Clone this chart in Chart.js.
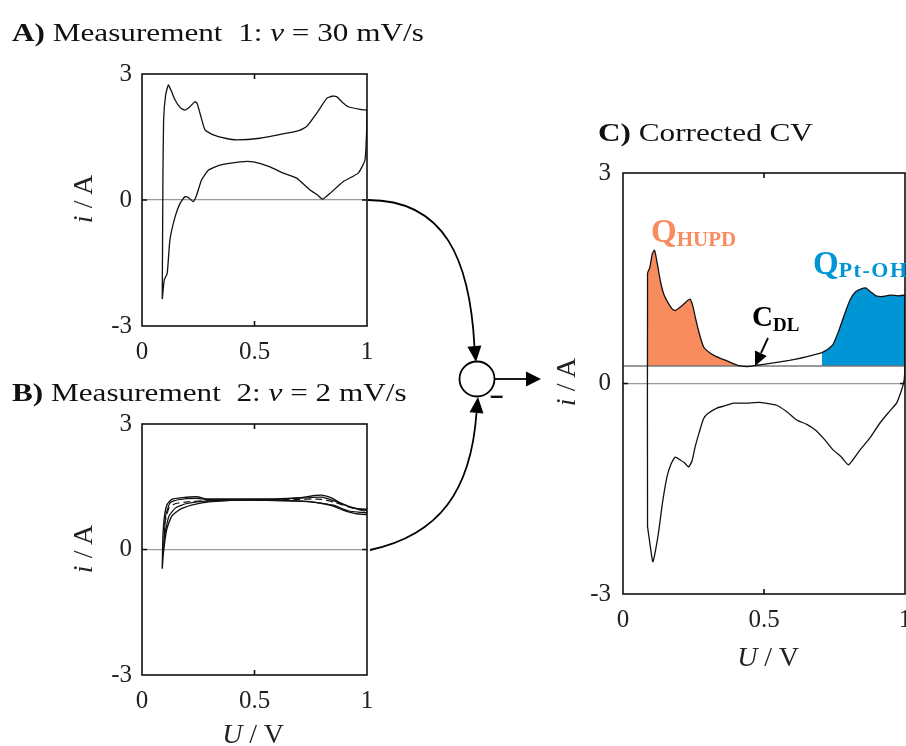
<!DOCTYPE html>
<html>
<head>
<meta charset="utf-8">
<script src="https://cdn.jsdelivr.net/npm/chart.js@4/dist/chart.umd.min.js"></script>
<style>
  html, body { margin: 0; padding: 0; background: #fff; }
  #wrap { position: relative; width: 906px; height: 746px; overflow: hidden; font-family: "Liberation Serif", "Times New Roman", serif; color: #111; }
  canvas { position: absolute; }
  .t { position: absolute; white-space: pre; line-height: 1; }
  .ttl { position: absolute; white-space: pre; line-height: 1; font-size: 26px; transform: scaleX(1.2); transform-origin: 0 0; }
  .rot { position: absolute; white-space: pre; line-height: 1; font-size: 28px; color: #222; transform: translate(-50%, -50%) rotate(-90deg); }
  .xt { position: absolute; white-space: pre; line-height: 1; font-size: 28px; color: #222; transform: translateX(-50%); }
</style>
</head>
<body>
<div id="wrap">
  <canvas id="chartA" width="400" height="320" style="left:0;top:60px"></canvas>
  <canvas id="chartB" width="400" height="336" style="left:0;top:410px"></canvas>
  <canvas id="chartC" width="346" height="500" style="left:560px;top:160px"></canvas>
  <canvas id="overlay" width="906" height="746" style="left:0;top:0"></canvas>

  <div class="ttl" style="left:12px;top:20px"><b>A)</b> Measurement  1: <i>v</i> = 30 mV/s</div>
  <div class="ttl" style="left:12px;top:380px"><b>B)</b> Measurement  2: <i>v</i> = 2 mV/s</div>
  <div class="ttl" style="left:598px;top:120px"><b>C)</b> Corrected CV</div>

  <div class="rot" style="left:83px;top:199px"><i>i</i> / A</div>
  <div class="rot" style="left:83px;top:549px"><i>i</i> / A</div>
  <div class="rot" style="left:566px;top:382px"><i>i</i> / A</div>
  <div class="xt" style="left:253px;top:720px"><i>U</i> / V</div>
  <div class="xt" style="left:768px;top:643px"><i>U</i> / V</div>

  <div class="t" style="left:651px;top:215px;font-size:33px;font-weight:bold;color:#f98c5f">Q<span style="font-size:21px;vertical-align:-4px">HUPD</span></div>
  <div class="t" style="left:813px;top:247px;font-size:33px;font-weight:bold;color:#0096d6">Q<span style="font-size:22px;vertical-align:-3px;letter-spacing:1.5px">Pt-OH</span></div>
  <div class="t" style="left:752px;top:302px;font-size:29px;font-weight:bold;color:#000">C<span style="font-size:19px;vertical-align:-5px">DL</span></div>
  <div class="t" style="left:490px;top:383px;font-size:24px;font-weight:bold;font-family:'Liberation Sans',sans-serif">–</div>
</div>

<script>
// axis ticks
const U_TICKS = [0, 0.5, 1];
const I_TICKS = [-3, 0, 3];

// A) 30 mV/s, anodic sweep then cathodic sweep back
const A_UP_U = [0.090, 0.093, 0.096, 0.105, 0.117, 0.130, 0.147, 0.170, 0.191, 0.213, 0.235, 0.245, 0.258, 0.280, 0.317, 0.370, 0.421, 0.524, 0.643, 0.700, 0.732, 0.776, 0.821, 0.845, 0.865, 0.890, 0.917, 0.969, 1.000];
const A_UP_I = [-2.36, 0.50, 1.90, 2.50, 2.74, 2.60, 2.38, 2.20, 2.14, 2.22, 2.34, 2.30, 2.06, 1.67, 1.55, 1.47, 1.43, 1.47, 1.59, 1.66, 1.75, 2.06, 2.42, 2.47, 2.46, 2.33, 2.22, 2.16, 2.14];
const A_DOWN_U = [1.000, 0.998, 0.991, 0.961, 0.895, 0.836, 0.803, 0.780, 0.747, 0.687, 0.628, 0.569, 0.495, 0.436, 0.347, 0.295, 0.265, 0.243, 0.228, 0.206, 0.191, 0.169, 0.147, 0.124, 0.112, 0.099, 0.090];
const A_DOWN_I = [2.14, 1.60, 0.95, 0.64, 0.44, 0.16, 0.02, 0.12, 0.24, 0.52, 0.64, 0.79, 0.91, 0.91, 0.83, 0.71, 0.48, 0.12, -0.04, 0.06, 0.08, -0.08, -0.40, -0.95, -1.75, -1.90, -2.36];

// B) 2 mV/s, several cycles
const B1_U = [0.090, 0.093, 0.100, 0.112, 0.132, 0.180, 0.243, 0.287, 0.400, 0.584, 0.700, 0.770, 0.800, 0.840, 0.880, 0.920, 0.954, 1.000, 1.000, 0.960, 0.939, 0.890, 0.850, 0.800, 0.732, 0.600, 0.436, 0.330, 0.273, 0.220, 0.169, 0.132, 0.110, 0.095, 0.090];
const B1_I = [-0.46, 0.30, 0.80, 1.08, 1.20, 1.24, 1.26, 1.21, 1.21, 1.21, 1.24, 1.29, 1.30, 1.24, 1.12, 1.03, 0.97, 0.96, 0.84, 0.85, 0.87, 0.95, 1.04, 1.10, 1.15, 1.17, 1.18, 1.15, 1.12, 1.06, 0.96, 0.80, 0.48, -0.08, -0.46];
const B2_U = [0.095, 0.105, 0.125, 0.160, 0.243, 0.300, 0.584, 0.750, 0.800, 0.860, 0.920, 1.000, 1.000, 0.920, 0.850, 0.750, 0.500, 0.300, 0.200, 0.150, 0.120, 0.100, 0.095];
const B2_I = [0.00, 0.80, 1.12, 1.19, 1.22, 1.19, 1.20, 1.24, 1.25, 1.15, 1.02, 0.93, 0.88, 0.92, 1.06, 1.14, 1.18, 1.16, 1.10, 1.00, 0.80, 0.30, 0.00];
const B3_U = [0.100, 0.120, 0.150, 0.200, 0.300, 0.500, 0.700, 0.800, 0.860, 0.930, 1.000];
const B3_I = [0.60, 1.00, 1.10, 1.14, 1.17, 1.19, 1.20, 1.20, 1.12, 1.00, 0.90];

// C) corrected CV = A - B
const C_UP_U = [0.087, 0.087, 0.095, 0.104, 0.112, 0.122, 0.133, 0.144, 0.160, 0.175, 0.185, 0.200, 0.215, 0.228, 0.238, 0.248, 0.256, 0.270, 0.286, 0.310, 0.333, 0.370, 0.400, 0.416, 0.440, 0.474, 0.510, 0.545, 0.590, 0.628, 0.670, 0.705, 0.730, 0.745, 0.765, 0.785, 0.805, 0.826, 0.845, 0.862, 0.880, 0.897, 0.920, 0.947, 0.975, 1.000];
const C_UP_I = [-2.04, 1.57, 1.65, 1.85, 1.90, 1.70, 1.45, 1.28, 1.15, 1.06, 1.04, 1.08, 1.13, 1.18, 1.20, 1.10, 0.95, 0.72, 0.52, 0.43, 0.38, 0.32, 0.27, 0.25, 0.24, 0.26, 0.28, 0.30, 0.33, 0.36, 0.40, 0.44, 0.50, 0.56, 0.75, 0.98, 1.19, 1.31, 1.35, 1.36, 1.30, 1.25, 1.24, 1.26, 1.25, 1.26];
const C_DOWN_U = [1.000, 1.000, 0.997, 0.988, 0.970, 0.940, 0.910, 0.875, 0.840, 0.800, 0.775, 0.746, 0.715, 0.681, 0.650, 0.616, 0.580, 0.545, 0.486, 0.440, 0.392, 0.360, 0.333, 0.300, 0.286, 0.270, 0.256, 0.245, 0.233, 0.218, 0.203, 0.185, 0.170, 0.156, 0.140, 0.125, 0.106, 0.096, 0.087];
const C_DOWN_I = [1.26, 0.30, 0.05, -0.09, -0.28, -0.42, -0.57, -0.78, -0.95, -1.16, -1.05, -0.95, -0.80, -0.66, -0.58, -0.52, -0.40, -0.31, -0.27, -0.28, -0.28, -0.32, -0.35, -0.43, -0.50, -0.70, -0.90, -1.10, -1.19, -1.13, -1.09, -1.05, -1.15, -1.33, -1.70, -2.15, -2.54, -2.30, -2.04];

// double layer baseline and integration windows
const CDL_BASE = 0.25;
const HUPD_RANGE = [0.087, 0.42];
const PTOH_RANGE = [0.705, 1.0];

const FONT = { family: "'Liberation Serif', 'Times New Roman', serif", size: 25 };
const ORANGE = '#f98c5f';
const BLUE = '#0096d6';

const pts = (us, is) => us.map((u, k) => ({ x: u, y: is[k] }));

function loop(upU, upI, downU, downI) {
  const p = pts(upU, upI).concat(pts(downU, downI));
  p.push(p[0]);
  return p;
}

function curve(data, extra) {
  return Object.assign({
    data: data, showLine: true, pointRadius: 0, borderColor: '#111',
    borderWidth: 1.3, tension: 0.15, fill: false
  }, extra || {});
}

// frame + small inward ticks
const boxPlugin = {
  id: 'box',
  afterDatasetsDraw(chart) {
    const { ctx, chartArea: a, scales: { x, y } } = chart;
    ctx.save();
    ctx.strokeStyle = '#111';
    ctx.lineWidth = 1.6;
    ctx.strokeRect(a.left, a.top, a.right - a.left, a.bottom - a.top);
    ctx.beginPath();
    const px = x.getPixelForValue(0.5);
    ctx.moveTo(px, a.top); ctx.lineTo(px, a.top + 5);
    ctx.moveTo(px, a.bottom); ctx.lineTo(px, a.bottom - 5);
    const py = y.getPixelForValue(0);
    ctx.moveTo(a.left, py); ctx.lineTo(a.left + 5, py);
    ctx.moveTo(a.right, py); ctx.lineTo(a.right - 5, py);
    ctx.stroke();
    ctx.restore();
  }
};

function noPad(s) {
  s.paddingTop = 0; s.paddingBottom = 0; s.paddingLeft = 0; s.paddingRight = 0;
}

function makeChart(id, datasets, pad, yWidth, xHeight, yPad) {
  return new Chart(document.getElementById(id), {
    type: 'scatter',
    data: { datasets: datasets },
    plugins: [boxPlugin],
    options: {
      responsive: false,
      animation: false,
      devicePixelRatio: 1,
      layout: { autoPadding: false, padding: { left: 0, top: pad.top, right: pad.right, bottom: 0 } },
      plugins: { legend: { display: false }, tooltip: { enabled: false } },
      scales: {
        x: {
          type: 'linear', min: 0, max: 1,
          afterBuildTicks: s => { s.ticks = U_TICKS.map(v => ({ value: v })); },
          afterFit: s => { s.height = xHeight; noPad(s); },
          grid: { display: false, drawTicks: false },
          border: { display: false },
          ticks: { font: FONT, color: '#222', padding: 11, maxRotation: 0, autoSkip: false, callback: v => String(v) }
        },
        y: {
          type: 'linear', min: -3, max: 3,
          afterBuildTicks: s => { s.ticks = I_TICKS.map(v => ({ value: v })); },
          afterFit: s => { s.width = yWidth; noPad(s); },
          grid: {
            drawTicks: false, lineWidth: 1.2,
            color: c => (c.tick && c.tick.value === 0) ? '#999' : 'rgba(0,0,0,0)'
          },
          border: { display: false },
          ticks: { font: FONT, color: '#222', padding: yPad, callback: v => String(v) }
        }
      }
    }
  });
}

// A
makeChart('chartA', [curve(loop(A_UP_U, A_UP_I, A_DOWN_U, A_DOWN_I))], { top: 14, right: 33 }, 142, 54, 10);

// B
makeChart('chartB', [
  curve(pts(B1_U, B1_I), { borderWidth: 1.4 }),
  curve(pts(B2_U, B2_I), { borderWidth: 1.2 }),
  curve(pts(B3_U, B3_I), { borderWidth: 1.2, borderDash: [7, 4] })
], { top: 14, right: 33 }, 142, 71, 10);

// C
const cUp = pts(C_UP_U, C_UP_I);
const hupd = cUp.slice(1).filter(p => p.x >= HUPD_RANGE[0] && p.x <= HUPD_RANGE[1]);
const ptoh = cUp.filter(p => p.x >= PTOH_RANGE[0] && p.x <= PTOH_RANGE[1]);
makeChart('chartC', [
  curve(loop(C_UP_U, C_UP_I, C_DOWN_U, C_DOWN_I)),
  curve([{ x: 0, y: CDL_BASE }, { x: 1, y: CDL_BASE }], { borderColor: '#777', borderWidth: 1.5, tension: 0 }),
  curve(hupd, { borderWidth: 0, backgroundColor: ORANGE, fill: { value: CDL_BASE } }),
  curve(ptoh, { borderWidth: 0, backgroundColor: BLUE, fill: { value: CDL_BASE } })
], { top: 13, right: 1 }, 63, 66, 12);

// arrows and summing node
const g = document.getElementById('overlay').getContext('2d');
g.strokeStyle = '#000';
g.fillStyle = '#000';
g.lineWidth = 1.8;

function head(tx, ty, fx, fy, len, hw) {
  const ang = Math.atan2(ty - fy, tx - fx);
  const bx = tx - len * Math.cos(ang), by = ty - len * Math.sin(ang);
  g.beginPath();
  g.moveTo(tx, ty);
  g.lineTo(bx + hw * Math.sin(ang), by - hw * Math.cos(ang));
  g.lineTo(bx - hw * Math.sin(ang), by + hw * Math.cos(ang));
  g.closePath();
  g.fill();
}

g.beginPath();
g.moveTo(368, 200);
g.bezierCurveTo(445, 200, 470, 260, 474.5, 347);
g.stroke();
head(476, 362, 474.5, 347, 16, 7);

g.beginPath();
g.moveTo(370, 550);
g.bezierCurveTo(440, 535, 471, 490, 476.5, 413);
g.stroke();
head(478, 397, 476.5, 413, 16, 7);

g.beginPath();
g.arc(477, 379, 17.5, 0, Math.PI * 2);
g.stroke();

g.beginPath();
g.moveTo(495, 379);
g.lineTo(527, 379);
g.stroke();
head(541, 379, 527, 379, 15, 7.5);

g.beginPath();
g.moveTo(768, 338);
g.lineTo(761, 353);
g.stroke();
head(755, 366, 761, 353, 14, 6.5);
</script>
</body>
</html>
